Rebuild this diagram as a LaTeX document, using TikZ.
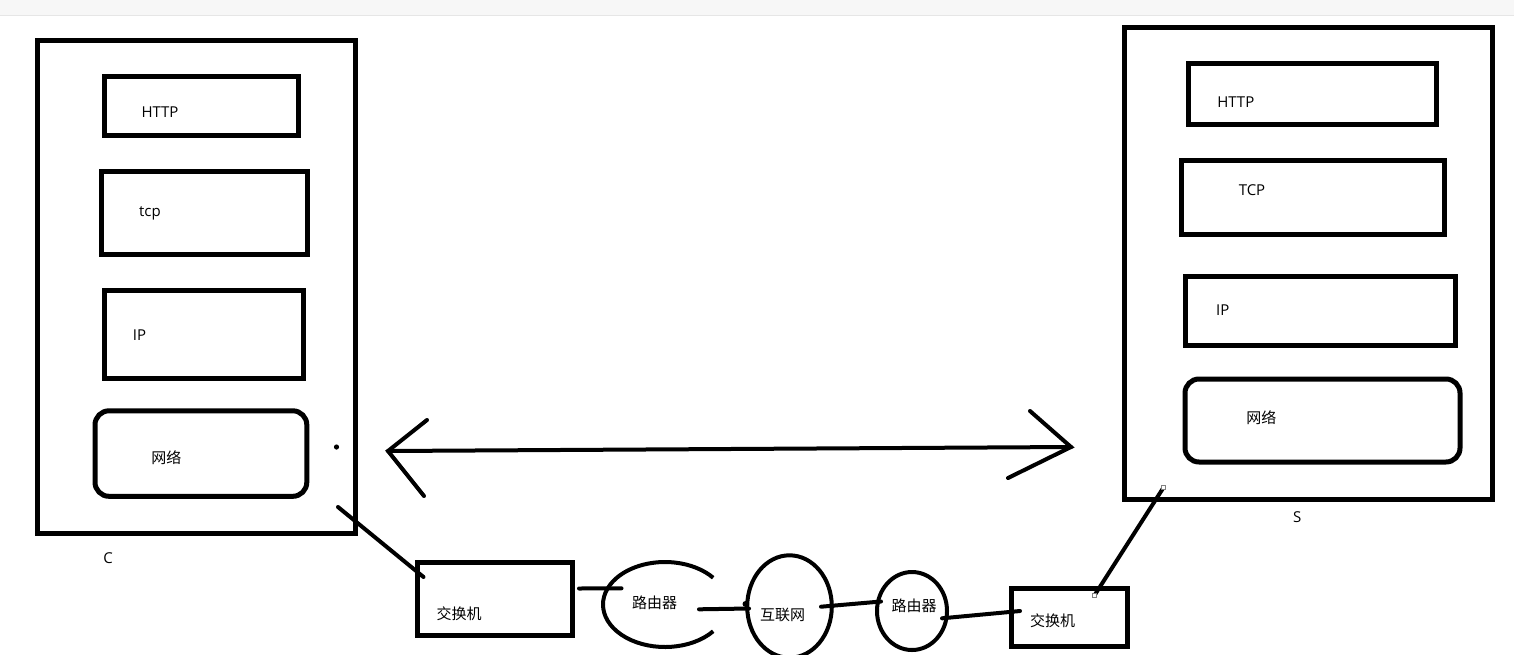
\documentclass[tikz,border=0pt]{standalone}
\usepackage{fontspec}
\setmainfont{Open Sans}
\newfontfamily\cjk{Noto Sans CJK SC}
\usetikzlibrary{shapes.geometric}
\definecolor{strip}{HTML}{F7F7F7}
\definecolor{stripline}{HTML}{E6E6E6}
\definecolor{handle}{HTML}{808080}
\begin{document}
\begin{tikzpicture}[x=1pt,y=-1pt,
  box/.style={draw,line width=5pt,rectangle,inner sep=0pt},
  rbox/.style={box,rounded corners=14pt},
  lbl/.style={anchor=base,inner sep=0pt,font=\fontsize{15}{18}\selectfont},
  clbl/.style={anchor=base,inner sep=0pt,font=\fontsize{15}{18}\selectfont\cjk},
  wire/.style={line width=4pt,line cap=round},
  cloud/.style={draw,ellipse,line width=4pt,inner sep=0pt},
  hnd/.style={draw=handle,fill=white,line width=0.8pt,rectangle,inner sep=0pt,minimum size=4pt}]
\useasboundingbox (0,0) rectangle (1514,654);
\clip (0,0) rectangle (1514,654);
\fill[strip] (0,0) rectangle (1514,15);
\draw[stripline,line width=1.2pt] (0,15.6) -- (1514,15.6);

% client C
\node[box,minimum width=318.5pt,minimum height=493pt] (C) at (196.25,286.5) {};
\node[box,minimum width=194pt,minimum height=58.3pt] (chttp) at (201.5,105.85) {};
\node[box,minimum width=205.3pt,minimum height=83.8pt] (ctcp) at (204.35,212.9) {};
\node[box,minimum width=198.8pt,minimum height=88.7pt] (cip) at (203.9,334.35) {};
\node[rbox,minimum width=211.8pt,minimum height=85.5pt] (cnet) at (200.9,453.55) {};
\node[lbl] (tchttp) at (160,117) {HTTP};
\node[lbl] (tctcp) at (150,216) {tcp};
\node[lbl] (tcip) at (139.5,340.5) {IP};
\node[clbl] (tcnet) at (166.3,463) {网络};
\node[lbl] (tc) at (108,563) {C};
\fill (336.5,447) circle (2.6pt);

% server S
\node[box,minimum width=368pt,minimum height=471.5pt] (S) at (1308.5,263.25) {};
\node[box,minimum width=248.2pt,minimum height=60.7pt] (shttp) at (1312.4,93.65) {};
\node[box,minimum width=262.8pt,minimum height=73.2pt] (stcp) at (1312.9,197.4) {};
\node[box,minimum width=270.5pt,minimum height=68.5pt] (sip) at (1320.25,310.75) {};
\node[rbox,minimum width=275pt,minimum height=83pt] (snet) at (1322.5,420.5) {};
\node[lbl] (tshttp) at (1235.8,107) {HTTP};
\node[lbl] (tstcp) at (1252,195) {TCP};
\node[lbl] (tsip) at (1222.8,315) {IP};
\node[clbl] (tsnet) at (1261.3,423) {网络};
\node[lbl] (ts) at (1297.3,522) {S};

% double arrow
\coordinate (aL) at (388,451);
\coordinate (aR) at (1071,447);
\coordinate (aLu) at (427,420);
\coordinate (aLd) at (424,496);
\coordinate (aRu) at (1030,411);
\coordinate (aRd) at (1008,478);
\draw[wire] (aL) -- (aR);
\draw[wire] (aLu) -- (aL) -- (aLd);
\draw[wire] (aRu) -- (aR) -- (aRd);

% network chain
\node[box,minimum width=155pt,minimum height=72.5pt] (sw1) at (494.5,599) {};
\node[clbl] (tsw1) at (459,619) {交换机};
\coordinate (r1c) at (665,604.5);
\draw[line width=4pt] (r1c) ++(39:62 and 42.5) arc[start angle=39,end angle=321,x radius=62,y radius=42.5];
\node[clbl] (tr1) at (654.5,608.5) {路由器};
\node[cloud,minimum width=84.6pt,minimum height=102.4pt] (net) at (789.5,606.5) {};
\node[clbl] (tnet) at (782.5,620.5) {互联网};
\node[cloud,minimum width=70pt,minimum height=78pt] (r2) at (912,611) {};
\node[clbl] (tr2) at (914,611) {路由器};
\node[box,minimum width=115.8pt,minimum height=57.4pt] (sw2) at (1069.6,617.5) {};
\node[clbl] (tsw2) at (1052.5,626) {交换机};

\coordinate (c1) at (338,507);
\coordinate (c2) at (423.5,577);
\draw[wire] (c1) -- (c2);
\coordinate (c3) at (579,588.5);
\coordinate (c4) at (621.5,588.3);
\draw[wire] (c3) -- (c4);
\coordinate (c5) at (699,609.3);
\coordinate (c6) at (749,608.5);
\draw[wire] (c5) -- (c6);
\fill (745.5,604) circle (3pt);
\coordinate (c7) at (821,606.7);
\coordinate (c8) at (881,601.5);
\draw[wire] (c7) -- (c8);
\coordinate (c9) at (942,618.3);
\coordinate (c10) at (1020,611);
\draw[wire] (c9) -- (c10);
\coordinate (c11) at (1094.5,595.3);
\coordinate (c12) at (1163.7,487.2);
\draw[line width=4pt] (c11) -- (c12);
\node[hnd] (h1) at (c11) {};
\node[hnd] (h2) at (c12) {};
\end{tikzpicture}
\end{document}
